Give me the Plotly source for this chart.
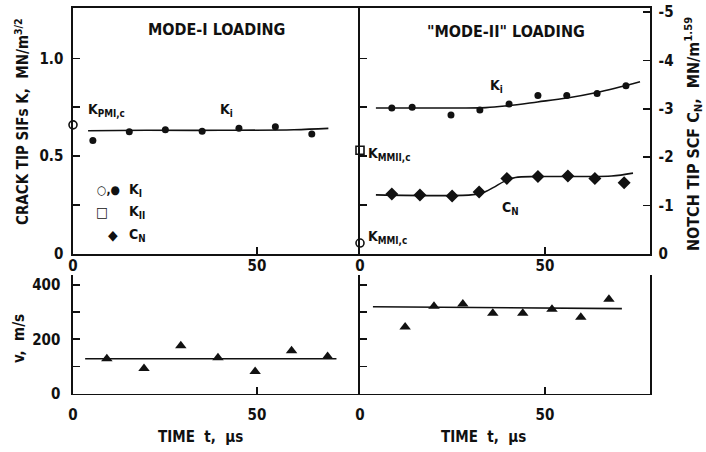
import plotly.graph_objects as go

# ---------------- data ----------------
# Mode-I loading, crack tip K_I (MN/m^3/2)
t_m1 = [5.4, 15.3, 25.1, 35.1, 45.1, 55.0, 64.9]
ki_m1 = [0.58, 0.625, 0.635, 0.627, 0.642, 0.65, 0.613]
t_m1_fit = [4.1, 20, 40, 60, 69.4]
ki_m1_fit = [0.63, 0.632, 0.632, 0.635, 0.642]
kpmic = 0.66

# "Mode-II" loading, crack tip K_I
t_m2 = [8.6, 14.1, 24.6, 32.4, 40.3, 48.1, 55.9, 64.1, 71.9]
ki_m2 = [0.746, 0.75, 0.71, 0.736, 0.766, 0.81, 0.81, 0.82, 0.86]
t_m2_fit = [4.3, 20, 34, 40, 48, 56, 64, 75.7]
ki_m2_fit = [0.746, 0.746, 0.748, 0.758, 0.777, 0.797, 0.825, 0.88]

# "Mode-II" loading, notch tip C_N (MN/m^1.59)
t_cn = [8.6, 16.2, 24.9, 32.2, 39.7, 48.1, 56.2, 63.5, 71.4]
cn = [-1.24, -1.22, -1.2, -1.28, -1.56, -1.6, -1.61, -1.56, -1.47]
t_cn_fit = [4.3, 30, 33, 36, 39, 42, 48, 60, 68, 73.8]
cn_fit = [-1.22, -1.22, -1.26, -1.37, -1.5, -1.58, -1.6, -1.6, -1.61, -1.67]
kmmiic = 0.53
kmmic = 0.056

# crack velocity v (m/s)
t_v1 = [9.2, 19.3, 29.3, 39.4, 49.5, 59.4, 69.2]
v1 = [128, 92, 176, 132, 81, 158, 136]
t_v1_fit = [3.3, 71.6]
v1_fit = [128, 128]

t_v2 = [12.2, 20.0, 27.8, 35.9, 44.0, 51.9, 59.7, 67.3]
v2 = [245, 322, 330, 296, 296, 311, 281, 348]
t_v2_fit = [3.5, 70.8]
v2_fit = [320, 313]

# ---------------- layout helpers ----------------
W, H = 706, 452
def px(x):
    return x / W
def py(y):
    return 1 - y / H

FONT = "DejaVu Sans Condensed, DejaVu Sans, sans-serif"
BLK = "#111111"
LW = 1.6

fig = go.Figure()

def line(x, y, xa, ya):
    fig.add_trace(go.Scatter(x=x, y=y, xaxis=xa, yaxis=ya, mode="lines",
                             line=dict(color=BLK, width=LW, shape="spline"),
                             showlegend=False, hoverinfo="skip"))

def pts(x, y, xa, ya, symbol, size, open_=False):
    fig.add_trace(go.Scatter(x=x, y=y, xaxis=xa, yaxis=ya, mode="markers",
                             marker=dict(symbol=symbol, size=size,
                                         color="white" if open_ else BLK,
                                         line=dict(color=BLK, width=1.6 if open_ else 0)),
                             cliponaxis=False, showlegend=False, hoverinfo="skip"))

# top-left
line(t_m1_fit, ki_m1_fit, "x", "y")
pts(t_m1, ki_m1, "x", "y", "circle", 7)
pts([0], [kpmic], "x", "y", "circle", 8, True)
# top-right
line(t_m2_fit, ki_m2_fit, "x2", "y2")
pts(t_m2, ki_m2, "x2", "y2", "circle", 7)
pts([0], [kmmiic], "x2", "y2", "square", 8, True)
pts([0], [kmmic], "x2", "y2", "circle", 8, True)
line(t_cn_fit, cn_fit, "x2", "y3")
pts(t_cn, cn, "x2", "y3", "diamond", 10)
# bottom
line(t_v1_fit, v1_fit, "x3", "y4")
pts(t_v1, v1, "x3", "y4", "triangle-up", 10)
line(t_v2_fit, v2_fit, "x4", "y5")
pts(t_v2, v2, "x4", "y5", "triangle-up", 10)

tickfont = dict(family=FONT, size=15, color=BLK, weight="bold")
common = dict(showgrid=False, zeroline=False, showline=True, linecolor=BLK,
              linewidth=LW, ticks="inside", ticklen=7, tickwidth=LW,
              tickcolor=BLK, tickfont=tickfont, automargin=False)

xL = [px(73), px(360)]
xR = [px(360), px(650)]
yT = [py(254), py(8)]
yB = [py(393.5), py(275)]

fig.update_layout(
    width=W, height=H, margin=dict(l=0, r=0, t=0, b=0, autoexpand=False),
    paper_bgcolor="white", plot_bgcolor="white",
    font=dict(family=FONT, color=BLK),
    xaxis=dict(domain=xL, range=[0, 78], anchor="y", mirror=True,
               tickvals=[0, 50], ticklabelstandoff=-3, **common),
    yaxis=dict(domain=yT, range=[0, 1.257], anchor="x",
               tickvals=[0, 0.25, 0.5, 0.75, 1.0],
               ticktext=["0", "", "0.5", "", "1.0"], ticklabelstandoff=5, **common),
    xaxis2=dict(domain=xR, range=[0, 78.4], anchor="y2", mirror=True,
                tickvals=[0, 50], ticklabelstandoff=-3, **common),
    yaxis2=dict(domain=yT, range=[0, 1.257], anchor="x2",
                tickvals=[0.25, 0.5, 0.75, 1.0], showticklabels=False, **common),
    yaxis3=dict(range=[0, -5.08], anchor="x2", overlaying="y2", side="right",
                tickvals=[0, -1, -2, -3, -4, -5],
                ticktext=["0", "-1", "-2", "-3", "-4", "-5"], ticklabelstandoff=4,
                **common),
    xaxis3=dict(domain=xL, range=[0, 78], anchor="y4",
                tickvals=[0, 50], ticklabelstandoff=7, **common),
    yaxis4=dict(domain=yB, range=[0, 437], anchor="x3",
                tickvals=[0, 100, 200, 300, 400],
                ticktext=["0", "", "200", "", "400"], ticklabelstandoff=8, **common),
    xaxis4=dict(domain=xR, range=[0, 78.4], anchor="y5",
                tickvals=[0, 50], ticklabelstandoff=7, **common),
    yaxis5=dict(domain=yB, range=[0, 437], anchor="x4", mirror=True,
                tickvals=[100, 200, 300, 400], showticklabels=False, **common),
)

def ann(text, x, y, size=15, xanchor="center", yanchor="middle", angle=0):
    fig.add_annotation(text=text, x=px(x), y=py(y), xref="paper", yref="paper",
                       showarrow=False, xanchor=xanchor, yanchor=yanchor,
                       textangle=angle,
                       font=dict(family=FONT, size=size, color=BLK, weight="bold"))

ann("MODE-I LOADING", 216, 29, 16)
ann("\"MODE-II\" LOADING", 506, 31, 16)
ann("CRACK TIP SIFs K,  MN/m<sup>3/2</sup>", 22, 122, 15, angle=-90)
ann("NOTCH TIP SCF C<sub>N</sub>,  MN/m<sup>1.59</sup>", 693, 134, 16, angle=-90)
ann("v,  m/s", 19, 339, 15, angle=-90)
ann("TIME  t,  µs", 201, 437, 15)
ann("TIME  t,  µs", 483, 437, 15)

ann("K<sub>PMI,c</sub>", 86, 110, 14, xanchor="left")
ann("K<sub>i</sub>", 218, 110, 14, xanchor="left")
ann("K<sub>i</sub>", 488, 86, 14, xanchor="left")
ann("C<sub>N</sub>", 500, 208, 14, xanchor="left")
ann("K<sub>MMII,c</sub>", 366, 154, 14, xanchor="left")
ann("K<sub>MMI,c</sub>", 366, 237, 14, xanchor="left")

ann("○,●", 95, 190, 12, xanchor="left")
ann("□", 94, 212, 14, xanchor="left")
ann("◆", 106, 235, 14, xanchor="left")
ann("K<sub>I</sub>", 127, 190, 14, xanchor="left")
ann("K<sub>II</sub>", 127, 212, 14, xanchor="left")
ann("C<sub>N</sub>", 127, 235, 14, xanchor="left")

fig.write_html("out.html", config={"displayModeBar": False, "staticPlot": True},
               post_script="document.body.style.margin='0';document.body.style.overflow='hidden';")
